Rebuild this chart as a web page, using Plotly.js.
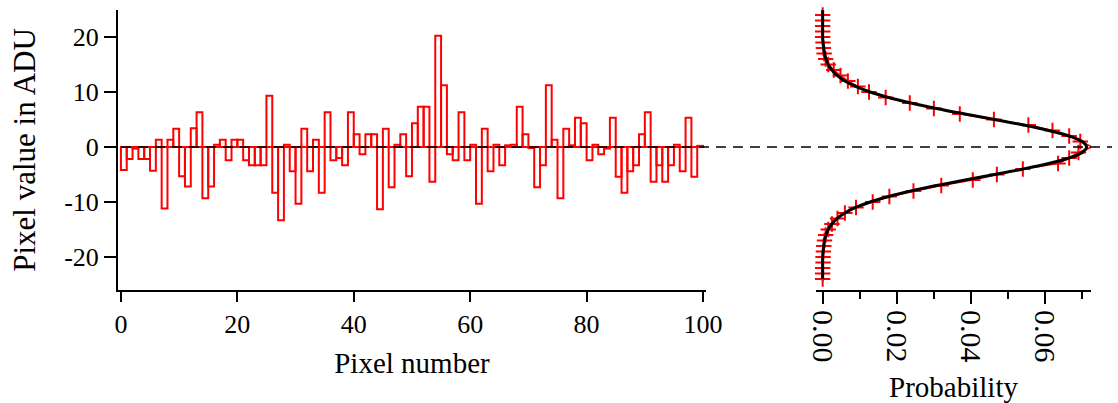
<!DOCTYPE html>
<html><head><meta charset="utf-8">
<script src="https://cdn.plot.ly/plotly-3.0.1.min.js"></script>
<style>html,body{margin:0;padding:0;background:#fff}</style>
</head><body><div id="chart" style="width:1118px;height:403px"></div>
<script>
// Left panel: pixel number vs pixel value (ADU)
const pixelNumber = [0,1,2,3,4,5,6,7,8,9,10,11,12,13,14,15,16,17,18,19,20,21,22,23,24,25,26,27,28,29,30,31,32,33,34,35,36,37,38,39,40,41,42,43,44,45,46,47,48,49,50,51,52,53,54,55,56,57,58,59,60,61,62,63,64,65,66,67,68,69,70,71,72,73,74,75,76,77,78,79,80,81,82,83,84,85,86,87,88,89,90,91,92,93,94,95,96,97,98,99];
const pixelValue = [-4.2,-2.2,-0.3,-2.2,-2.2,-4.3,1.3,-11.2,1.3,3.3,
  -5.3,-7.2,3.4,6.3,-9.3,-7.2,0.4,1.3,-2.4,1.3,
  1.3,-2.4,-3.3,-3.3,-3.3,9.3,-8.3,-13.3,0.4,-4.4,
  -10.3,3.3,-4.4,1.3,-8.3,6.3,-2.4,-2.0,-3.3,6.3,
  2.3,-1.3,2.3,2.3,-11.3,3.3,-7.3,0.4,2.3,-5.3,
  4.3,7.3,7.3,-6.3,20.2,11.2,-1.3,-2.4,6.3,-2.4,
  0.4,-10.3,3.3,-4.4,0.4,-3.3,0.3,0.4,7.3,2.3,
  -0.2,-7.3,-3.3,11.2,1.3,-9.3,3.3,0.3,5.3,4.3,
  -2.4,0.4,-1.3,-0.3,5.3,-5.4,-8.3,-4.4,-3.3,2.3,
  6.3,-6.3,-3.3,-6.3,-3.3,0.4,-4.4,5.3,-5.4,0.2];

// Right panel: measured distribution (red) and fitted curve (black)
const histValue = [25,24,23,22,21,20,19,18,17,16,15,14,13,12,11,10,9,8,7,6,5,4,3,2,1,0,-1,-2,-3,-4,-5,-6,-7,-8,-9,-10,-11,-12,-13,-14,-15,-16,-17,-18,-19,-20,-21,-22,-23,-24];
const histProb = [0,0,0,0,0,0,0.0001,0.0002,0.0004,0.0008,0.0015,0.0030,0.0048,0.0068,0.0095,0.0125,0.0170,0.0235,0.0300,0.0370,0.0462,0.0555,0.0620,0.0665,0.0695,0.0727,0.0690,0.0665,0.0635,0.0540,0.0470,0.0405,0.0320,0.0245,0.0180,0.0135,0.0090,0.0060,0.0040,0.0025,0.0015,0.0008,0.0005,0.0003,0.0002,0.0001,0.0001,0,0,0];
const fitValue = [25,24,23,22,21,20,19,18,17,16,15,14,13,12,11,10,9,8,7,6,5,4,3,2,1,0,-1,-2,-3,-4,-5,-6,-7,-8,-9,-10,-11,-12,-13,-14,-15,-16,-17,-18,-19,-20,-21,-22,-23,-24];
const fitProb = [0,0,0,0,0,0,0.0001,0.0003,0.0005,0.0009,0.0015,0.0025,0.0039,0.0060,0.0089,0.0128,0.0178,0.0238,0.0307,0.0384,0.0464,0.0541,0.0610,0.0665,0.0700,0.0712,0.0700,0.0665,0.0610,0.0541,0.0464,0.0384,0.0307,0.0238,0.0178,0.0128,0.0089,0.0060,0.0039,0.0025,0.0015,0.0009,0.0005,0.0003,0.0001,0,0,0,0,0];

const xTicks = [0,20,40,60,80,100];
const yTicks = [-20,-10,0,10,20];
const yTickText = ['-20','-10','0','10','20'];
const probTicks = [0,0.02,0.04,0.06];
const probTickText = ['0.00','0.02','0.04','0.06'];
const probMinor = [0.01,0.03,0.05,0.07];

const FONT = '"Liberation Serif", "Times New Roman", serif';

const traces = [
  {type:'bar', x:pixelNumber, y:pixelValue, width:1, offset:0, xaxis:'x', yaxis:'y',
   marker:{color:'rgba(0,0,0,0)', line:{color:'#ff0000', width:2}}, hoverinfo:'skip'},
  {type:'scatter', mode:'lines+markers', x:histProb, y:histValue, xaxis:'x2', yaxis:'y2',
   line:{color:'#ff0000', width:1.5}, cliponaxis:false,
   marker:{symbol:'cross-thin', size:11, color:'#ff0000', line:{color:'#ff0000', width:2}}},
  {type:'scatter', mode:'lines', x:fitProb, y:fitValue, xaxis:'x2', yaxis:'y2',
   line:{color:'#000000', width:3, shape:'spline'}, cliponaxis:false}
];

const axCommon = {showgrid:false, zeroline:false, showline:true, linecolor:'#000', linewidth:2,
  ticks:'outside', tickcolor:'#000', tickwidth:2, tickfont:{family:FONT, size:26, color:'#000'}};

const layout = {
  width:1118, height:403,
  margin:{l:118, r:6, t:10, b:113, pad:0},
  paper_bgcolor:'#ffffff', plot_bgcolor:'rgba(0,0,0,0)',
  showlegend:false, bargap:0,
  font:{family:FONT, color:'#000', size:26},
  xaxis:Object.assign({}, axCommon, {domain:[0,0.5915], range:[-0.5,100.5], tickvals:xTicks, ticklen:10,
    title:{text:'Pixel number', font:{family:FONT, size:29}, standoff:14}}),
  yaxis:Object.assign({}, axCommon, {domain:[0,1], range:[-26,24.9], tickvals:yTicks, ticktext:yTickText, ticklen:12,
    title:{text:'Pixel value in ADU', font:{family:FONT, size:31}, standoff:19}}),
  xaxis2:Object.assign({}, axCommon, {domain:[0.7022,0.9789], anchor:'y2', range:[-0.0018,0.0724],
    tickvals:probTicks, ticktext:probTickText, tickangle:90, ticklen:12,
    tickfont:{family:FONT, size:30, color:'#000'},
    minor:{tickvals:probMinor, ticks:'outside', ticklen:7, tickwidth:2, tickcolor:'#000'},
    title:{text:'Probability', font:{family:FONT, size:29}, standoff:19}}),
  yaxis2:{anchor:'x2', domain:[0,1], range:[-26,24.9], visible:false},
  shapes:[{type:'line', xref:'paper', yref:'y', x0:0.003, x1:1, y0:0, y1:0, layer:'above',
    line:{color:'#000', width:1.5, dash:'10px,7px'}}]
};

Plotly.newPlot('chart', traces, layout, {staticPlot:true, displayModeBar:false});
</script></body></html>
